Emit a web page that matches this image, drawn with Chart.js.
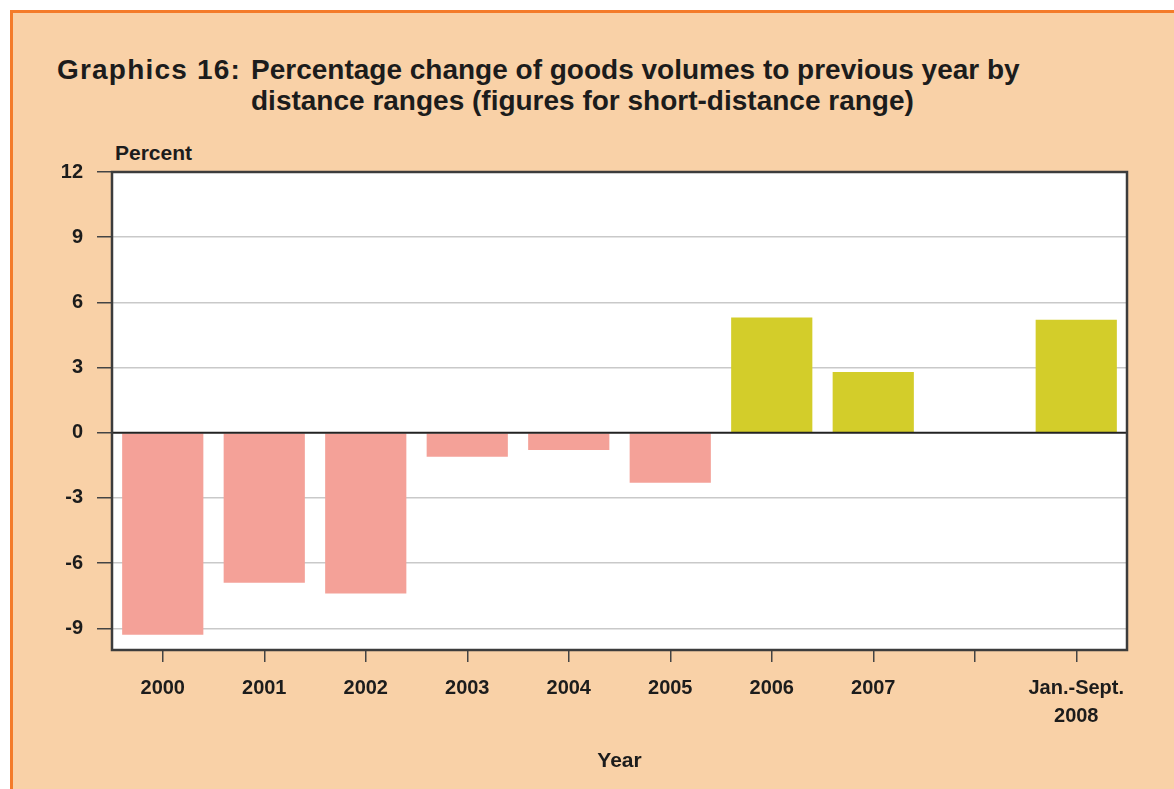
<!DOCTYPE html>
<html><head><meta charset="utf-8">
<script src="https://cdn.jsdelivr.net/npm/chart.js@4.4.1/dist/chart.umd.min.js"></script>
<style>
html,body{margin:0;padding:0;background:#fff;width:1174px;height:789px;overflow:hidden;}
#frame{position:absolute;left:10px;top:10px;right:0;bottom:0;background:#F9D1A7;border-top:3px solid #F47B2A;border-left:3px solid #F47B2A;}
.t{position:absolute;font-family:"Liberation Sans",Arial,sans-serif;font-weight:bold;color:#1c1c1c;white-space:nowrap;line-height:1;}
#wrap{position:absolute;left:0;top:0;width:1174px;height:789px;}
</style></head>
<body>
<div id="frame"></div>
<div class="t" style="left:57px;top:56px;font-size:28px;letter-spacing:1.2px">Graphics 16:</div>
<div class="t" style="left:251px;top:56px;font-size:28px">Percentage change of goods volumes to previous year by</div>
<div class="t" style="left:251px;top:87px;font-size:28px">distance ranges (figures for short-distance range)</div>
<div class="t" style="left:115px;top:142px;font-size:21px">Percent</div>
<div id="wrap"><canvas id="c" width="1174" height="789"></canvas></div>
<script>
const categories = ['2000','2001','2002','2003','2004','2005','2006','2007','',['Jan.-Sept.','2008']];
const values = [-9.3, -6.9, -7.4, -1.1, -0.8, -2.3, 5.3, 2.8, null, 5.2];
const yTicks = [-9, -6, -3, 0, 3, 6, 9, 12];
const yMin = -10, yMax = 12;
const axisTitle = 'Year';

const negColor = '#F4A198', posColor = '#D3CD2A';
const FONT = '"Liberation Sans", Arial, sans-serif';

const framePlugin = {
  id: 'framePlugin',
  beforeDraw(chart) {
    const {ctx, chartArea: a} = chart;
    ctx.save();
    ctx.fillStyle = '#ffffff';
    ctx.fillRect(a.left, a.top, a.right - a.left, a.bottom - a.top);
    ctx.restore();
  },
  afterDatasetsDraw(chart) {
    const {ctx, chartArea: a, scales} = chart;
    const y0 = scales.y.getPixelForValue(0);
    ctx.save();
    ctx.strokeStyle = '#222';
    ctx.lineWidth = 2;
    ctx.beginPath();
    ctx.moveTo(a.left, y0); ctx.lineTo(a.right, y0);
    ctx.stroke();
    ctx.strokeStyle = '#3c3c3c';
    ctx.lineWidth = 2.5;
    ctx.strokeRect(a.left, a.top, a.right - a.left, a.bottom - a.top);
    ctx.restore();
  }
};

new Chart(document.getElementById('c'), {
  type: 'bar',
  data: {
    labels: categories,
    datasets: [{
      data: values,
      backgroundColor: values.map(v => v !== null && v < 0 ? negColor : posColor),
      borderWidth: 0,
      categoryPercentage: 1,
      barPercentage: 0.8
    }]
  },
  options: {
    responsive: false,
    animation: false,
    events: [],
    layout: { padding: { top: 172, right: 47, left: 0, bottom: 0 } },
    plugins: { legend: { display: false }, tooltip: { enabled: false }, title: { display: false } },
    scales: {
      x: {
        grid: { display: true, drawOnChartArea: false, drawTicks: true, tickLength: 12, offset: false, tickColor: '#444', lineWidth: 1.5 },
        border: { display: false },
        ticks: { color: '#1c1c1c', padding: 12, maxRotation: 0, autoSkip: false, font: { family: FONT, size: 20, weight: 'bold', lineHeight: 1.4 } },
        title: { display: true, text: axisTitle, color: '#1c1c1c', padding: { top: 0, bottom: 15 }, font: { family: FONT, size: 21, weight: 'bold', lineHeight: 1.2 } },
        afterFit(scale) { scale.height = 139; }
      },
      y: {
        min: yMin, max: yMax,
        afterBuildTicks(scale) { scale.ticks = yTicks.map(v => ({ value: v })); },
        grid: {
          drawTicks: true, tickLength: 15, tickColor: '#444', lineWidth: 1.5,
          color: ctx => (ctx.tick && (ctx.tick.value === 0 || ctx.tick.value === yMax)) ? 'rgba(0,0,0,0)' : '#c9c9c9'
        },
        border: { display: false },
        ticks: { color: '#1c1c1c', padding: 14, font: { family: FONT, size: 20, weight: 'bold' } },
        afterFit(scale) { scale.width = 112; }
      }
    }
  },
  plugins: [framePlugin]
});
</script>
</body></html>
